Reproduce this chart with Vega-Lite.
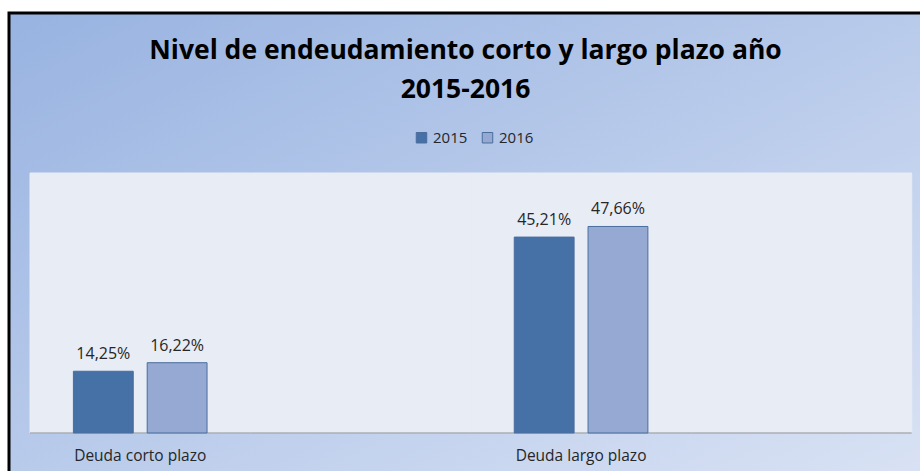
{
  "$schema": "https://vega.github.io/schema/vega-lite/v6.json",
  "width": 913,
  "height": 461,
  "autosize": {"type": "none"},
  "padding": {"left": 9, "top": 13, "right": 0, "bottom": 0},
  "background": "#ffffff",
  "config": {
    "font": "Open Sans",
    "locale": {"number": {"decimal": ",", "thousands": ".", "grouping": [3], "currency": ["", " €"]}},
    "view": {
      "fill": {"gradient": "linear", "x1": 0, "y1": 0, "x2": 1, "y2": 1, "stops": [{"offset": 0, "color": "#98b3e1"}, {"offset": 1, "color": "#d9e2f4"}]},
      "stroke": "#000000",
      "strokeWidth": 3
    }
  },
  "title": {
    "text": ["Nivel de endeudamiento corto y largo plazo año", "2015-2016"],
    "font": "Open Sans",
    "fontSize": 26.5,
    "fontWeight": "bold",
    "color": "#000000",
    "anchor": "middle",
    "frame": "group",
    "lineHeight": 39,
    "offset": -90
  },
  "datasets": {
    "bars": [
      {"categoria": "Deuda corto plazo", "año": "2015", "valor": 0.1425},
      {"categoria": "Deuda corto plazo", "año": "2016", "valor": 0.1622},
      {"categoria": "Deuda largo plazo", "año": "2015", "valor": 0.4521},
      {"categoria": "Deuda largo plazo", "año": "2016", "valor": 0.4766}
    ],
    "cats": [
      {"categoria": "Deuda corto plazo"},
      {"categoria": " "},
      {"categoria": "Deuda largo plazo"},
      {"categoria": "  "}
    ]
  },
  "layer": [
    {
      "data": {"name": "cats"},
      "mark": {"type": "rect", "fill": "#e8ecf5", "stroke": "#e8ecf5", "strokeWidth": 1},
      "encoding": {
        "x": {
          "field": "categoria",
          "type": "nominal",
          "sort": null,
          "scale": {"domain": ["Deuda corto plazo", " ", "Deuda largo plazo", "  "], "paddingInner": 0, "paddingOuter": 0.071, "align": 0.671},
          "axis": {"title": null, "orient": "bottom", "offset": -41, "domain": false, "ticks": false, "tickSize": 0, "labelPadding": 15, "labelAngle": 0, "labelFontSize": 15.5, "labelColor": "#262626", "labelFont": "Open Sans"}
        },
        "y": {"datum": 0.6, "type": "quantitative", "scale": {"domain": [-0.09462, 0.96923], "nice": false, "zero": false}, "axis": null},
        "y2": {"datum": 0}
      }
    },
    {
      "data": {"name": "cats"},
      "mark": {"type": "rect", "fill": null, "stroke": "#8c8f96", "strokeWidth": 1.2},
      "encoding": {
        "x": {"field": "categoria", "type": "nominal", "sort": null},
        "y": {"datum": 0, "type": "quantitative"},
        "y2": {"datum": 0}
      }
    },
    {
      "data": {"name": "bars"},
      "mark": {"type": "bar", "stroke": "#4a6d9e", "strokeWidth": 1},
      "encoding": {
        "x": {"field": "categoria", "type": "nominal", "sort": null},
        "xOffset": {"field": "año", "type": "nominal", "scale": {"paddingInner": 0.189, "paddingOuter": 0.588}},
        "y": {"field": "valor", "type": "quantitative"},
        "color": {
          "field": "año",
          "type": "nominal",
          "scale": {"domain": ["2015", "2016"], "range": ["#4571a6", "#95a9d2"]},
          "legend": {
            "title": null,
            "orient": "none",
            "legendX": 405,
            "legendY": 117,
            "direction": "horizontal",
            "symbolType": "square",
            "symbolSize": 110,
            "symbolStrokeColor": "#4a6d9e",
            "symbolStrokeWidth": 1,
            "labelFontSize": 15,
            "labelFont": "Open Sans",
            "labelColor": "#262626",
            "labelOffset": 4,
            "columnPadding": 12,
            "padding": 0
          }
        }
      }
    },
    {
      "data": {"name": "bars"},
      "mark": {"type": "text", "baseline": "alphabetic", "dy": -12, "fontSize": 16, "font": "Open Sans", "color": "#262626"},
      "encoding": {
        "x": {"field": "categoria", "type": "nominal", "sort": null},
        "xOffset": {"field": "año", "type": "nominal"},
        "y": {"field": "valor", "type": "quantitative"},
        "text": {"field": "valor", "type": "quantitative", "format": ".2%"}
      }
    }
  ]
}
